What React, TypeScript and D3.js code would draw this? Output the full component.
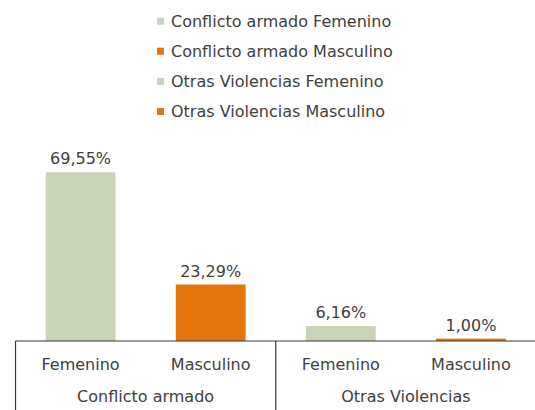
import React from "react";
import * as d3 from "d3";

const groups = ["Conflicto armado", "Otras Violencias"];
const sexes = ["Femenino", "Masculino"];
const values = [
  [69.55, 23.29],
  [6.16, 1.0],
];
const valueLabels = [
  ["69,55%", "23,29%"],
  ["6,16%", "1,00%"],
];
const legendLabels = [
  "Conflicto armado Femenino",
  "Conflicto armado Masculino",
  "Otras Violencias Femenino",
  "Otras Violencias Masculino",
];
const colors = ["#C8D3B8", "#E2760C"];

const W = 535;
const H = 410;
const FONT = "'DejaVu Sans', sans-serif";
const TEXT = "#404040";

export default function App() {
  const axisY = 341;
  const x0 = d3.scaleBand<string>().domain(groups).range([15.5, 536]).padding(0);
  const x1 = d3
    .scaleBand<string>()
    .domain(sexes)
    .range([0, x0.bandwidth()])
    .paddingInner(0.4636)
    .paddingOuter(0.2318);
  const y = d3.scaleLinear().domain([0, 70]).range([axisY, axisY - 70 * 2.4256]);

  const legendBase = [26.7, 56.7, 87, 117];

  return (
    <svg
      width={W}
      height={H}
      style={{ position: "absolute", left: 0, top: 0, background: "#fff" }}
      fontFamily={FONT}
    >
      {/* legend */}
      {legendLabels.map((l, i) => (
        <g key={l}>
          <rect x={157} y={legendBase[i] - 9} width={7} height={7} fill={colors[i % 2]} />
          <text x={171} y={legendBase[i]} fontSize={16} fill={TEXT}>
            {l}
          </text>
        </g>
      ))}

      {/* bars */}
      {groups.map((g, gi) =>
        sexes.map((s, si) => {
          const v = values[gi][si];
          const bx = (x0(g) ?? 0) + (x1(s) ?? 0);
          const bw = x1.bandwidth();
          return (
            <g key={g + s}>
              <rect x={bx} y={y(v)} width={bw} height={axisY - y(v)} fill={colors[si]} />
              <text
                x={bx + bw / 2}
                y={y(v) - 8}
                textAnchor="middle"
                fontSize={16}
                fill={TEXT}
              >
                {valueLabels[gi][si]}
              </text>
            </g>
          );
        })
      )}

      {/* axis */}
      <line x1={x0.range()[0]} x2={W} y1={axisY} y2={axisY} stroke="#3a3a3a" strokeWidth={1.2} />
      {groups.map((g) => (
        <line
          key={"div" + g}
          x1={x0(g)}
          x2={x0(g)}
          y1={axisY}
          y2={H}
          stroke="#3a3a3a"
          strokeWidth={1.2}
        />
      ))}
      {groups.map((g) =>
        sexes.map((s) => (
          <text
            key={"cl" + g + s}
            x={(x0(g) ?? 0) + (x1(s) ?? 0) + x1.bandwidth() / 2}
            y={370}
            textAnchor="middle"
            fontSize={16}
            fill={TEXT}
          >
            {s}
          </text>
        ))
      )}
      {groups.map((g) => (
        <text
          key={"gl" + g}
          x={(x0(g) ?? 0) + x0.bandwidth() / 2}
          y={402}
          textAnchor="middle"
          fontSize={16}
          fill={TEXT}
        >
          {g}
        </text>
      ))}
    </svg>
  );
}
